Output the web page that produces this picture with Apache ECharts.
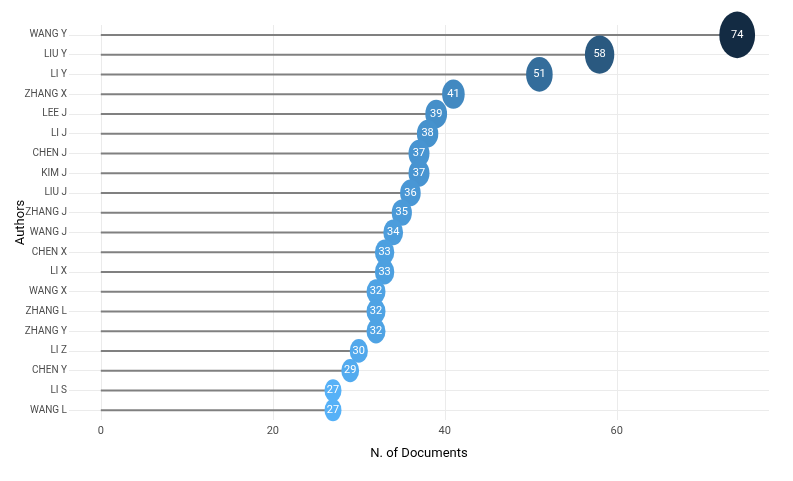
<!DOCTYPE html>
<html>
<head>
<meta charset="utf-8">
<script src="https://cdn.jsdelivr.net/npm/echarts@6/dist/echarts.min.js"></script>
<style>html,body{margin:0;padding:0;background:#fff}#c{width:793px;height:481px}</style>
</head>
<body>
<div id="c"></div>
<script>
const authors = ["WANG Y","LIU Y","LI Y","ZHANG X","LEE J","LI J","CHEN J","KIM J","LIU J","ZHANG J","WANG J","CHEN X","LI X","WANG X","ZHANG L","ZHANG Y","LI Z","CHEN Y","LI S","WANG L"];
const documents = [74,58,51,41,39,38,37,37,36,35,34,33,33,32,32,32,30,29,27,27];
const xTicks = [0,20,40,60];

const FONT = "'Liberation Sans Narrow','Roboto',sans-serif";
const chart = echarts.init(document.getElementById('c'), null, {renderer:'canvas'});
const vmin = Math.min(...documents), vmax = Math.max(...documents);
const gridColor = '#ebebeb';

chart.setOption({
  animation: false,
  grid: {left: 69, right: 24, top: 25, bottom: 61, containLabel: false, outerBoundsMode: 'none'},
  visualMap: {
    show: false, type: 'continuous', min: vmin, max: vmax, dimension: 0, seriesIndex: 1,
    inRange: {color: ['#56B1F7', '#132B43']}
  },
  xAxis: {
    type: 'value', min: -3.7, max: 77.7,
    name: 'N. of Documents', nameLocation: 'middle', nameGap: 27,
    nameTextStyle: {color: '#000', fontSize: 13, fontFamily: FONT},
    axisLine: {show: false}, axisTick: {show: false},
    splitLine: {show: false},
    axisLabel: {customValues: xTicks, color: '#4d4d4d', fontSize: 11, fontFamily: FONT, margin: 6}
  },
  yAxis: {
    type: 'category', data: authors, inverse: true,
    name: 'Authors', nameLocation: 'middle', nameGap: 42, nameRotate: 90, nameMoveOverlap: false,
    nameTextStyle: {color: '#000', fontSize: 13, fontFamily: FONT},
    axisLine: {show: false}, axisTick: {show: false}, splitLine: {show: false},
    axisLabel: {color: '#4d4d4d', fontSize: 10, fontFamily: FONT, margin: 2}
  },
  series: [
    {
      type: 'bar', data: documents, barWidth: 2, itemStyle: {color: '#808080'},
      z: 3, silent: true,
      markLine: {
        silent: true, symbol: 'none', label: {show: false},
        lineStyle: {color: gridColor, width: 1, type: 'solid'},
        z: 1,
        data: authors.map(a => ({yAxis: a})).concat(xTicks.map(t => ({xAxis: t})))
      }
    },
    {
      type: 'scatter', z: 5,
      data: documents.map((v, i) => [v, authors[i]]),
      symbol: 'circle',
      itemStyle: {opacity: 1},
      symbolSize: function (val) {
        const w = 17 + (val[0] - 27) * 0.4;
        return [w, w * 1.3];
      },
      label: {
        show: true, position: 'inside', color: '#fff', fontSize: 11, fontFamily: FONT,
        formatter: p => p.value[0]
      }
    }
  ]
});
</script>
</body>
</html>
